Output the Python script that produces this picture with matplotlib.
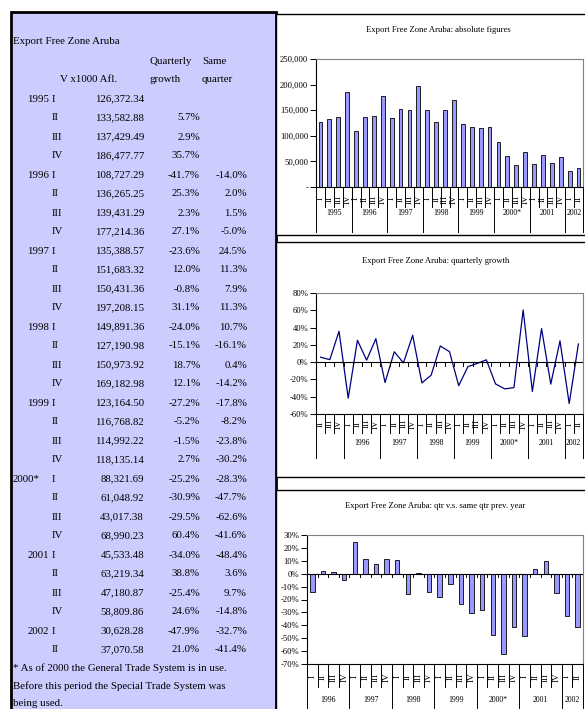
import matplotlib
matplotlib.use("Agg")
import matplotlib.pyplot as plt
from matplotlib.patches import Rectangle
from matplotlib.ticker import FuncFormatter

plt.rcParams['font.family'] = ['Liberation Serif', 'DejaVu Serif']

# data (V x1000 Afl.)
years = ['1995', '1996', '1997', '1998', '1999', '2000*', '2001', '2002']
year_counts = [4, 4, 4, 4, 4, 4, 4, 2]
quarters = ['I', 'II', 'III', 'IV'] * 7 + ['I', 'II']
values = [126372.34, 133582.88, 137429.49, 186477.77,
          108727.29, 136265.25, 139431.29, 177214.36,
          135388.57, 151683.32, 150431.36, 197208.15,
          149891.36, 127190.98, 150973.92, 169182.98,
          123164.50, 116768.82, 114992.22, 118135.14,
          88321.69, 61048.92, 43017.38, 68990.23,
          45533.48, 63219.34, 47180.87, 58809.86,
          30628.28, 37070.58]
q_growth = [None, 5.7, 2.9, 35.7,
            -41.7, 25.3, 2.3, 27.1,
            -23.6, 12.0, -0.8, 31.1,
            -24.0, -15.1, 18.7, 12.1,
            -27.2, -5.2, -1.5, 2.7,
            -25.2, -30.9, -29.5, 60.4,
            -34.0, 38.8, -25.4, 24.6,
            -47.9, 21.0]
same_qtr = [None, None, None, None,
            -14.0, 2.0, 1.5, -5.0,
            24.5, 11.3, 7.9, 11.3,
            10.7, -16.1, 0.4, -14.2,
            -17.8, -8.2, -23.8, -30.2,
            -28.3, -47.7, -62.6, -41.6,
            -48.4, 3.6, 9.7, -14.8,
            -32.7, -41.4]
footnote = ["* As of 2000 the General Trade System is in use.",
            "Before this period the Special Trade System was",
            "being used."]

W, H = 585, 709
fig = plt.figure(figsize=(W / 100, H / 100), dpi=100)
bg = fig.add_axes([0, 0, 1, 1])
bg.set_xlim(0, W)
bg.set_ylim(H, 0)
bg.axis('off')

# left table panel
bg.add_patch(Rectangle((11, 12), 265, 710, facecolor='#CCCCFF', edgecolor='black', lw=2))
# chart frames
for y0, y1 in [(14, 235), (242, 477), (490, 715)]:
    bg.add_patch(Rectangle((276, y0), 320, y1 - y0, facecolor='white', edgecolor='black', lw=1))

fs = 7.8
row_h = 19.0
row0 = 42
bg.text(13, row0, 'Export Free Zone Aruba', fontsize=fs, va='center')
bg.text(150, row0 + row_h, 'Quarterly', fontsize=fs, va='center')
bg.text(202, row0 + row_h, 'Same', fontsize=fs, va='center')
bg.text(60, row0 + 2 * row_h, 'V x1000 Afl.', fontsize=fs, va='center')
bg.text(150, row0 + 2 * row_h, 'growth', fontsize=fs, va='center')
bg.text(202, row0 + 2 * row_h, 'quarter', fontsize=fs, va='center')

yi = 0
for i, q in enumerate(quarters):
    y = row0 + (3 + i) * row_h
    if q == 'I':
        yr = years[yi]
        yi += 1
        if yr.endswith('*'):
            bg.text(13, y, yr, fontsize=fs, va='center')
        else:
            bg.text(49, y, yr, fontsize=fs, va='center', ha='right')
    bg.text(52, y, q, fontsize=fs, va='center')
    bg.text(144, y, f'{values[i]:,.2f}', fontsize=fs, va='center', ha='right')
    if q_growth[i] is not None:
        bg.text(200, y, f'{q_growth[i]:.1f}%', fontsize=fs, va='center', ha='right')
    if same_qtr[i] is not None:
        bg.text(247, y, f'{same_qtr[i]:.1f}%', fontsize=fs, va='center', ha='right')
for k, yy in enumerate([668, 686, 703]):
    bg.text(13, yy, footnote[k], fontsize=fs, va='center')


def px_axes(x0, y0, x1, y1):
    return fig.add_axes([x0 / W, 1 - y1 / H, (x1 - x0) / W, (y1 - y0) / H])


def style(ax):
    for s in ['top', 'right']:
        ax.spines[s].set_color('#808080')
        ax.spines[s].set_linewidth(0.8)
    ax.spines['left'].set_linewidth(0.8)
    ax.spines['bottom'].set_linewidth(0.8)
    ax.set_xticks([])
    ax.tick_params(axis='y', direction='out', length=4, width=0.7, labelsize=6.2, pad=1.5)


def category_axis(ax, qlabels, groups, counts, h, q_y, q_len, y_y, y_len):
    tr = ax.get_xaxis_transform()
    n = len(qlabels)
    for i, q in enumerate(qlabels):
        ax.text(i, -q_y / h, q, rotation=90, ha='center', va='center',
                fontsize=6.6, transform=tr, clip_on=False)
    for b in range(1, n):
        ax.plot([b - 0.5, b - 0.5], [0, -q_len / h], color='black', lw=0.7,
                transform=tr, clip_on=False)
    start = 0
    bounds = [-0.5]
    for g, c in zip(groups, counts):
        ax.text(start + (c - 1) / 2, -y_y / h, g, ha='center', va='center',
                fontsize=5.6, transform=tr, clip_on=False)
        start += c
        bounds.append(start - 0.5)
    for b in bounds:
        ax.plot([b, b], [0, -y_len / h], color='black', lw=0.7,
                transform=tr, clip_on=False)


# chart 1: absolute figures
n1 = len(values)
ax1 = px_axes(316, 59, 583, 187)
ax1.bar(range(n1), values, width=0.42, color='#9999FF', edgecolor='black', lw=0.6)
ax1.set_xlim(-0.5, n1 - 0.5)
ax1.set_ylim(0, 250000)
ax1.set_yticks(range(0, 250001, 50000))
ax1.yaxis.set_major_formatter(FuncFormatter(lambda v, p: '-' if v == 0 else f'{v:,.0f}'))
style(ax1)
category_axis(ax1, quarters, years, year_counts, 128, 12, 20, 26, 45)
bg.text(438, 30, 'Export Free Zone Aruba: absolute figures', fontsize=6.2, ha='center', va='center')

# chart 2: quarterly growth
g2 = q_growth[1:]
n2 = len(g2)
ax2 = px_axes(316, 293, 583, 414)
ax2.plot(range(n2), g2, color='#000080', lw=0.9)
ax2.set_xlim(-0.5, n2 - 0.5)
ax2.set_ylim(-60, 80)
ax2.set_yticks(range(-60, 81, 20))
ax2.yaxis.set_major_formatter(FuncFormatter(lambda v, p: f'{v:.0f}%'))
ax2.axhline(0, color='black', lw=0.8)
tl2 = 4 * 140 / 121
for b in range(1, n2):
    ax2.plot([b - 0.5, b - 0.5], [0, -tl2], color='black', lw=0.7)
style(ax2)
category_axis(ax2, quarters[1:], [''] + years[1:], [3] + year_counts[1:], 121, 10, 19, 29, 44)
bg.text(436, 261, 'Export Free Zone Aruba: quarterly growth', fontsize=6.2, ha='center', va='center')

# chart 3: same quarter previous year
g3 = same_qtr[4:]
n3 = len(g3)
ax3 = px_axes(307, 535, 583, 664)
ax3.bar(range(n3), g3, width=0.42, color='#9999FF', edgecolor='black', lw=0.6)
ax3.set_xlim(-0.5, n3 - 0.5)
ax3.set_ylim(-70, 30)
ax3.set_yticks(range(-70, 31, 10))
ax3.yaxis.set_major_formatter(FuncFormatter(lambda v, p: f'{v:.0f}%'))
ax3.axhline(0, color='black', lw=0.8)
tl3 = 3 * 100 / 129
for b in range(1, n3):
    ax3.plot([b - 0.5, b - 0.5], [0, -tl3], color='black', lw=0.7)
style(ax3)
category_axis(ax3, quarters[4:], years[1:], year_counts[1:], 129, 13, 23, 36, 50)
bg.text(435, 506, 'Export Free Zone Aruba: qtr v.s. same qtr prev. year', fontsize=6.2, ha='center', va='center')

fig.savefig('out.png', dpi=100)
